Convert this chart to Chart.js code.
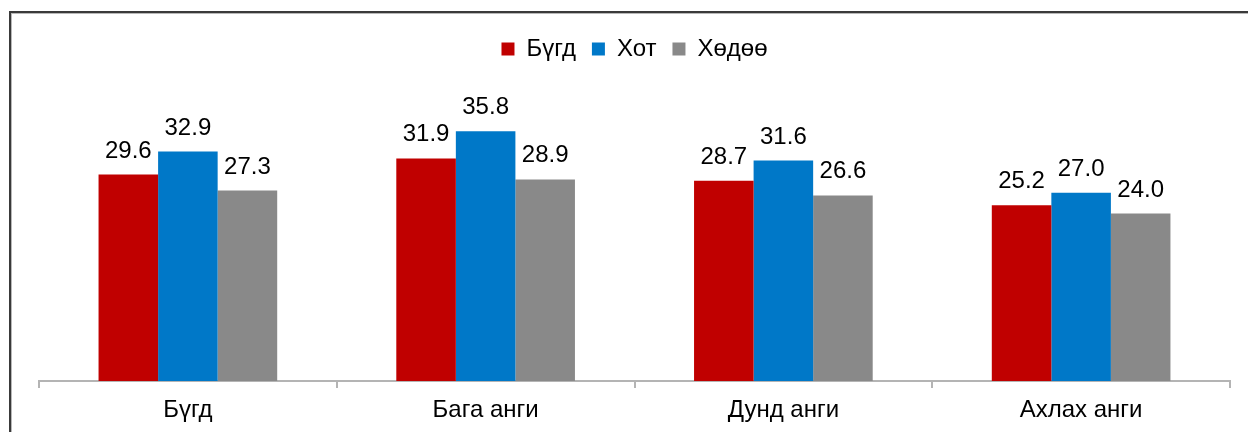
<!DOCTYPE html>
<html>
<head>
<meta charset="utf-8">
<script src="https://cdn.jsdelivr.net/npm/chart.js@4.4.0/dist/chart.umd.min.js"></script>
<style>
  body { margin: 0; background: #fff; }
  #wrap { position: relative; width: 1248px; height: 432px; }
</style>
</head>
<body>
<div id="wrap"><canvas id="chart" width="1248" height="432"></canvas></div>
<script>
const categories = ["Бүгд", "Бага анги", "Дунд анги", "Ахлах анги"];
const totalValues = [29.6, 31.9, 28.7, 25.2];
const cityValues = [32.9, 35.8, 31.6, 27.0];
const ruralValues = [27.3, 28.9, 26.6, 24.0];

const fontFamily = "'Liberation Sans', Arial, sans-serif";
const textSize = 24;

// frame lines at top and left, like the original picture
const framePlugin = {
  id: "frame",
  afterDraw(chart) {
    const ctx = chart.ctx;
    ctx.save();
    ctx.fillStyle = "#3a3a3a";
    ctx.fillRect(9, 11, 1239, 2);
    ctx.fillRect(9, 11, 2, 421);
    ctx.fillStyle = "#b8b8b8";
    ctx.fillRect(11, 13, 1237, 1);
    ctx.fillRect(11, 13, 1, 419);
    ctx.restore();
  },
};

// extra room under the legend
const legendGap = {
  id: "legendGap",
  beforeInit(chart) {
    const fit = chart.legend.fit;
    chart.legend.fit = function () {
      fit.bind(chart.legend)();
      this.height += 31;
    };
  },
};

// value labels above every bar
const valueLabels = {
  id: "valueLabels",
  afterDatasetsDraw(chart) {
    const ctx = chart.ctx;
    ctx.save();
    ctx.font = textSize + "px " + fontFamily;
    ctx.fillStyle = "#000";
    ctx.textAlign = "center";
    ctx.textBaseline = "alphabetic";
    chart.data.datasets.forEach((ds, i) => {
      chart.getDatasetMeta(i).data.forEach((bar, j) => {
        ctx.fillText(ds.data[j].toFixed(1), bar.x, bar.y - 17);
      });
    });
    ctx.restore();
  },
};

new Chart(document.getElementById("chart").getContext("2d"), {
  type: "bar",
  data: {
    labels: categories,
    datasets: [
      { label: "Бүгд", data: totalValues, backgroundColor: "#C00000" },
      { label: "Хот", data: cityValues, backgroundColor: "#0078C8" },
      { label: "Хөдөө", data: ruralValues, backgroundColor: "#898989" },
    ],
  },
  options: {
    responsive: false,
    animation: false,
    layout: { padding: { left: 39, right: 18, top: 21, bottom: 0 } },
    datasets: {
      bar: { categoryPercentage: 0.6, barPercentage: 1.0 },
    },
    scales: {
      x: {
        grid: {
          drawOnChartArea: false,
          drawTicks: true,
          tickLength: 7,
          color: "#b4b4b4",
          lineWidth: 2,
        },
        border: { color: "#b4b4b4", width: 2 },
        ticks: {
          color: "#000",
          font: { family: fontFamily, size: textSize, lineHeight: 1.0 },
          padding: 10,
        },
      },
      y: {
        display: false,
        min: 0,
        max: 40,
      },
    },
    plugins: {
      legend: {
        position: "top",
        labels: {
          color: "#000",
          font: { family: fontFamily, size: textSize },
          boxWidth: 13,
          boxHeight: 13,
          padding: 16,
        },
      },
      tooltip: { enabled: false },
    },
  },
  plugins: [framePlugin, legendGap, valueLabels],
});
</script>
</body>
</html>
